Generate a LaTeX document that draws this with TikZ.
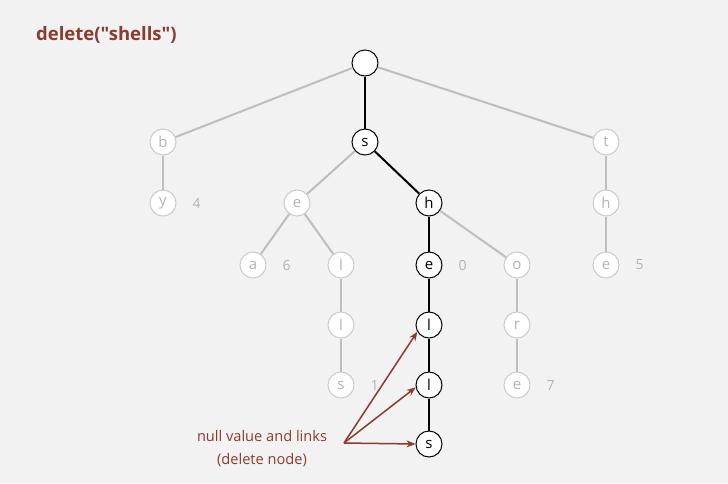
\documentclass[tikz,border=0pt]{standalone}
\usepackage{fontspec}
\setmainfont{Open Sans}
\newfontfamily\plainsans{Open Sans}
\usetikzlibrary{arrows.meta,positioning}
\definecolor{bgcol}{HTML}{F2F2F2}
\definecolor{dimcol}{HTML}{BEBEBE}
\definecolor{dimtext}{HTML}{B4B4B4}
\definecolor{notecol}{HTML}{8B3A2B}
\tikzset{
  trie/.style={circle, minimum size=26pt, inner sep=0pt, fill=white, font=\fontsize{15}{15}\selectfont},
  live/.style={trie, draw=black, line width=1pt, text=black},
  dead/.style={trie, draw=dimcol!80, line width=1pt, text=dimtext},
  livelink/.style={draw=black, line width=2pt},
  deadlink/.style={draw=dimcol, line width=2pt},
  val/.style={font=\fontsize{14}{14}\selectfont, text=dimtext, anchor=west, inner sep=0pt},
  note/.style={font=\fontsize{14.6}{23}\selectfont, text=notecol, align=center}
}
\begin{document}
\begin{tikzpicture}[x=1pt, y=-1pt]
      \fill[bgcol] (0,0) rectangle (728,483);
      \useasboundingbox (0,0) rectangle (728,483);
      % title
      \node[anchor=west, inner sep=0pt, text=notecol, font=\plainsans\bfseries\fontsize{18.5}{18.5}\selectfont] (title) at (36,35) {delete("shells")};
      % the trie
      \node[live] (root) at (365,63) {};
      \node[dead] (b) at (163,142) {b};
      \node[live] (s) at (365,142) {s};
      \node[dead] (t) at (606,142) {t};
      \node[dead] (y) at (163,203) {y};
      \node[dead] (se) at (297,203) {e};
      \node[live] (sh) at (429,203) {h};
      \node[dead] (th) at (606,203) {h};
      \node[dead] (sea) at (253,265) {a};
      \node[dead] (sel) at (341,265) {l};
      \node[live] (she) at (429,265) {e};
      \node[dead] (sho) at (517,265) {o};
      \node[dead] (the) at (606,265) {e};
      \node[dead] (sell) at (341,325) {l};
      \node[live] (shel) at (429,325) {l};
      \node[dead] (shor) at (517,325) {r};
      \node[dead] (sells) at (341,385) {s};
      \node[live] (shell) at (429,385) {l};
      \node[dead] (shore) at (517,385) {e};
      \node[live] (shells) at (429,444) {s};
      % values
      \node[val, right=16pt of y] (v4) {4};
      \node[val, right=16pt of sea] (v6) {6};
      \node[val, right=16pt of she] (v0) {0};
      \node[val, right=16pt of the] (v5) {5};
      \node[val, right=16pt of sells] (v1) {1};
      \node[val, right=16pt of shore] (v7) {7};
      % links
      \draw[deadlink] (root) -- (b);
      \draw[deadlink] (root) -- (t);
      \draw[deadlink] (b) -- (y);
      \draw[deadlink] (s) -- (se);
      \draw[deadlink] (t) -- (th);
      \draw[deadlink] (th) -- (the);
      \draw[deadlink] (se) -- (sea);
      \draw[deadlink] (se) -- (sel);
      \draw[deadlink] (sel) -- (sell);
      \draw[deadlink] (sell) -- (sells);
      \draw[deadlink] (sh) -- (sho);
      \draw[deadlink] (sho) -- (shor);
      \draw[deadlink] (shor) -- (shore);
      \draw[livelink] (root) -- (s);
      \draw[livelink] (s) -- (sh);
      \draw[livelink] (sh) -- (she);
      \draw[livelink] (she) -- (shel);
      \draw[livelink] (shel) -- (shell);
      \draw[livelink] (shell) -- (shells);
      % note with arrows
      \node[note] (nullnote) at (262,449) {null value and links\\(delete node)};
      \coordinate (from) at (344,443);
      \draw[-{Stealth[length=9pt,width=7pt]}, notecol, line width=1.5pt]
      (from) edge (shel.-150)
      (from) edge (shell.-170)
      (from) -- (shells.west);
\end{tikzpicture}
\end{document}
